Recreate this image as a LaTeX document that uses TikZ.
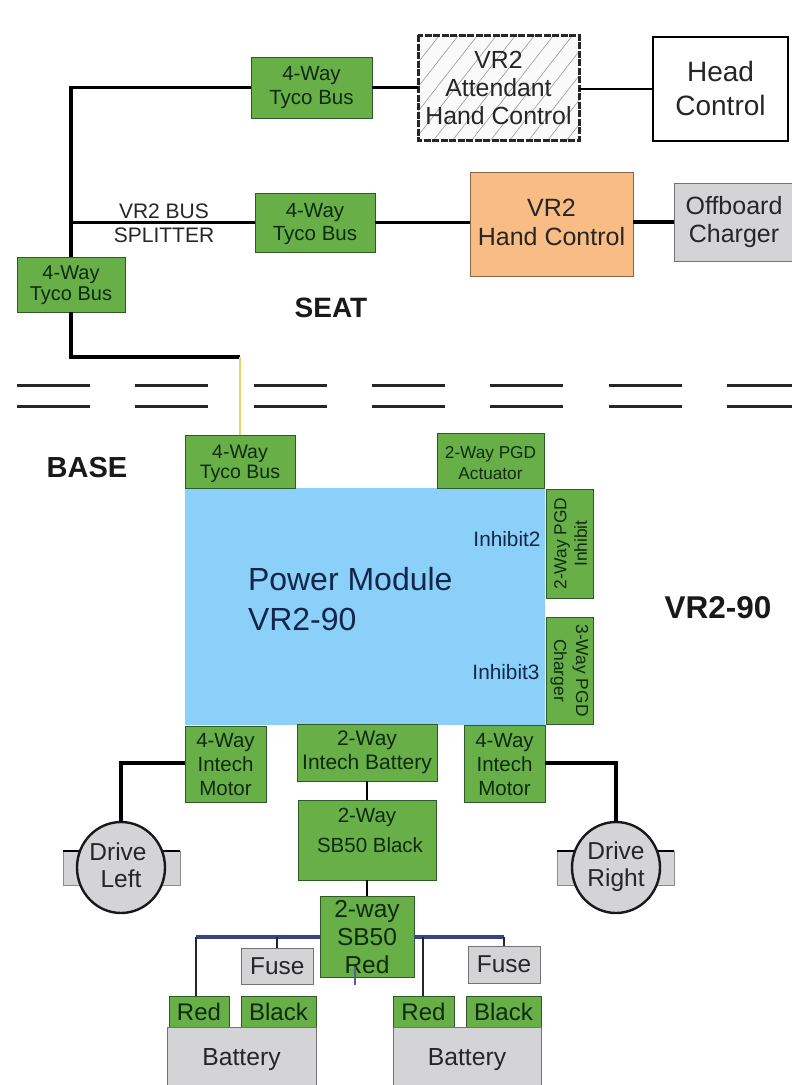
\documentclass[tikz,border=0pt]{standalone}
\usepackage{fontspec}
\setmainfont{Liberation Sans}
\usetikzlibrary{patterns.meta,calc,shapes.geometric}
\definecolor{gbox}{HTML}{68AF48}
\definecolor{gedge}{HTML}{2E5A28}
\definecolor{gtext}{HTML}{0E2A10}
\definecolor{orangebox}{HTML}{F8BC84}
\definecolor{bluebox}{HTML}{8BD0F8}
\definecolor{navy}{HTML}{14264A}
\definecolor{greybox}{HTML}{D4D4D6}
\definecolor{wireblue}{HTML}{3A4580}
\definecolor{wireyellow}{HTML}{E6D468}
\newcommand{\Tx}[2]{\raisebox{\dimexpr #1pt-.25em\relax}[0pt][0pt]{\begin{tabular}{@{}c@{}}#2\end{tabular}}}
\newcommand{\bx}[7]{\node[#6,minimum width={(#4-#2)*1pt},minimum height={(#5-#3)*1pt}] (#1) at ({(#2+#4)/2},{(#3+#5)/2}) {#7};}
\tikzset{
  fs/.style 2 args={font=\fontsize{#1}{#2}\selectfont},
  basebox/.style={rectangle,inner sep=0pt,outer sep=0pt,align=center},
  greenbox/.style={basebox,fill=gbox,draw=gedge,line width=1pt,text=gtext},
  greyunit/.style={basebox,fill=greybox,draw=black!55,line width=1pt,text=black!85},
  wire/.style={draw=black,line width=3.3pt,line join=miter},
  thinwire/.style={draw=black,line width=2pt},
  bluewire/.style={draw=wireblue,line width=3.2pt},
  blackwire/.style={draw=black!85,line width=2.2pt},
  labeltext/.style={inner sep=0pt,outer sep=0pt,align=center},
  sep/.style={draw=black!85,line width=3pt,dash pattern=on 73pt off 45.3pt},
  drivecase/.style={basebox,fill=greybox,draw=black!45,line width=1pt},
  driveunit/.style={ellipse,inner sep=0pt,outer sep=0pt,fill=greybox,draw=black!90,line width=2.4pt,align=center,text=black!85,fs={24.5}{27}}
}
\begin{document}
\begin{tikzpicture}[x=1pt,y=-1pt]
\useasboundingbox (0,0) rectangle (792,1085);
\fill[white] (0,0) rectangle (792,1085);
% seat row 1
\bx{tycoA}{251}{57}{372}{118}{greenbox,fs={20.5}{24}}{\Tx{-0.5}{4-Way\\Tyco Bus}}
\node[basebox,minimum width=161pt,minimum height=105pt,fill=white!98!black] (attend) at (498.5,87.5) {};
\fill[pattern={Lines[angle=52,distance=15pt,line width=0.6pt]},pattern color=black!40] (attend.north west) rectangle (attend.south east);
\draw[black!85,line width=3pt,dash pattern=on 7pt off 1.5pt] (attend.north west) rectangle (attend.south east);
\node[labeltext,text=black!85,fs={24.8}{28}] (attendtext) at (attend.center) {\Tx{-3}{VR2\\Attendant\\Hand Control}};
\bx{head}{653}{37}{788}{141}{basebox,fill=white,draw=black,line width=1.3pt,text=black!85,fs={28}{34}}{\Tx{-2}{Head\\Control}}
% seat row 2
\bx{tycoB}{255}{193}{375}{252}{greenbox,fs={20.5}{23.5}}{\Tx{-2}{4-Way\\Tyco Bus}}
\bx{hand}{470}{172}{633}{276}{basebox,fill=orangebox,draw=black!45!orangebox,line width=1pt,text=black!85,fs={25}{29}}{\Tx{-1}{VR2\\Hand Control}}
\bx{charger}{674}{183}{794}{261}{greyunit,fs={25}{28}}{\Tx{-1}{Offboard\\Charger}}
\bx{tycoC}{17}{257}{125}{312}{greenbox,fs={20}{20.5}}{\Tx{-1.5}{4-Way\\Tyco Bus}}
\node[labeltext,text=black!85,fs={21}{24}] (splitter) at (164,226) {\Tx{0}{VR2 BUS\\SPLITTER}};
\node[labeltext,font=\fontsize{28}{32}\selectfont\bfseries,text=black!90] (seat) at (331,308) {SEAT};
% separators
\coordinate (sepAL) at (17,385); \coordinate (sepAR) at (792,385);
\coordinate (sepBL) at (17,406); \coordinate (sepBR) at (792,406);
\draw[sep] (sepAL) -- (sepAR);
\draw[sep] (sepBL) -- (sepBR);
% base
\node[labeltext,font=\fontsize{29}{32}\selectfont\bfseries,text=black!90] (base) at (87,468) {BASE};
\node[labeltext,font=\fontsize{31.5}{35}\selectfont\bfseries,text=black!90] (vrlabel) at (718,608) {VR2-90};
\bx{module}{185}{488}{545}{725}{basebox,fill=bluebox,text=navy}{}
\node[labeltext,text=navy,fs={32}{40},anchor=west] (modtext) at (248,602) {\begin{tabular}{@{}l@{}}Power Module\\VR2-90\end{tabular}};
\node[labeltext,text=navy,fs={20.8}{24}] (inhB) at (507,539) {Inhibit2};
\node[labeltext,text=navy,fs={20.8}{24}] (inhC) at (506,672) {Inhibit3};
\bx{tycoD}{185}{435}{295}{488}{greenbox,fs={19.5}{20}}{\Tx{-3}{4-Way\\Tyco Bus}}
\bx{actuator}{437}{433}{544}{488}{greenbox,fs={17.2}{21}}{\Tx{-4.5}{2-Way PGD\\Actuator}}
\bx{pgdinh}{546}{489}{593}{598}{greenbox,fs={17.4}{20.5}}{\hspace*{6pt}\rotatebox{90}{\begin{tabular}{@{}c@{}}2-Way PGD\\Inhibit\end{tabular}}}
\bx{pgdchg}{546}{617}{593}{724}{greenbox,fs={17.4}{22}}{\rotatebox{-90}{\begin{tabular}{@{}c@{}}3-Way PGD\\Charger\end{tabular}}}
\bx{motL}{185}{726}{266}{802}{greenbox,fs={20.5}{24}}{\Tx{-3}{4-Way\\Intech\\Motor}}
\bx{intbat}{297}{724}{437}{781}{greenbox,fs={21}{24}}{\Tx{0}{2-Way\\Intech Battery}}
\bx{motR}{464}{725}{545}{802}{greenbox,fs={20.5}{24}}{\Tx{-3}{4-Way\\Intech\\Motor}}
\bx{sbblack}{298}{800}{436}{880}{greenbox,fs={20.5}{30}}{\Tx{8.5}{2-Way\\\hspace*{6pt}SB50 Black}}
\bx{sbred}{320}{896}{414}{977}{greenbox,fs={24.5}{28}}{\Tx{-3}{2-way\\SB50\\Red}}
% drives
\bx{caseL}{63}{851}{180}{885}{drivecase}{}
\bx{caseR}{557}{851}{674}{885}{drivecase}{}
\draw[black,line width=1.2pt] (caseL.north west) -- (caseL.north east);
\draw[black,line width=1.2pt] (caseR.north west) -- (caseR.north east);
\node[driveunit,minimum width=88pt,minimum height=91pt] (driveL) at (121,867.5) {\Tx{-1}{\hspace*{-6pt}Drive\\Left}};
\node[driveunit,minimum width=88pt,minimum height=91pt] (driveR) at (616,867.5) {\Tx{0}{Drive\\Right}};
% batteries
\bx{fuseL}{241}{948}{313.5}{984}{greyunit,fs={24.4}{28}}{Fuse}
\bx{fuseR}{468}{946}{540}{983}{greyunit,fs={24.4}{28}}{Fuse}
\bx{redL}{169}{996}{229}{1027}{greenbox,fs={24}{28}}{Red}
\bx{blackL}{241}{996}{316}{1027}{greenbox,fs={24}{28}}{Black}
\bx{redR}{393}{996}{454}{1027}{greenbox,fs={24}{28}}{Red}
\bx{blackR}{466}{996}{541}{1027}{greenbox,fs={24}{28}}{Black}
\bx{batL}{167}{1027}{316}{1092}{greyunit,fs={24.7}{28}}{\Tx{0}{Battery}}
\bx{batR}{393}{1027}{541}{1092}{greyunit,fs={24.7}{28}}{\Tx{0}{Battery}}
% connectors
\coordinate (busdrop) at (240,357);
\coordinate (wireLeft) at (196,937);
\coordinate (wireRight) at (504,937);
\coordinate (wireRightDrop) at (423,937);
\coordinate (stubA) at (355,967);
\coordinate (stubB) at (355,985);
\draw[wire] (tycoA.west) -| (tycoC.north);
\draw[wire] (tycoA.east) -- (attend.west);
\draw[thinwire] (attend.east |- head.west) -- (head.west);
\draw[thinwire,line width=2.3pt] (tycoB.west) -- (tycoB.west -| tycoC.north);
\draw[wire] (tycoB.east) -- (tycoB.east -| hand.west);
\draw[wire] (hand.east |- charger.west) -- (charger.west);
\draw[wire] (tycoC.south) |- (busdrop);
\draw[draw=wireyellow,line width=1.6pt] (busdrop) -- (tycoD.north);
\draw[wire] (motL.west |- 0,763) -| (driveL.north);
\draw[wire] (motR.east |- 0,763) -| (driveR.north);
\draw[thinwire,line width=2.6pt] (intbat.south) -- (intbat.south |- sbblack.north);
\draw[thinwire,line width=2.6pt] (sbblack.south) -- (sbblack.south |- sbred.north);
\draw[bluewire] (sbred.west |- wireLeft) -- (wireLeft);
\draw[bluewire] (sbred.east |- wireRight) -- (wireRight);
\draw[blackwire,line width=2.6pt] (wireLeft) -- (wireLeft |- redL.north);
\draw[blackwire] (fuseL.north) -- (fuseL.north |- wireLeft);
\draw[blackwire,line width=2.6pt] (wireRightDrop) -- (wireRightDrop |- redR.north);
\draw[blackwire] (fuseR.north) -- (wireRight);
\draw[draw=wireblue!85,line width=2.4pt] (stubA) -- (stubB);
\end{tikzpicture}
\end{document}
